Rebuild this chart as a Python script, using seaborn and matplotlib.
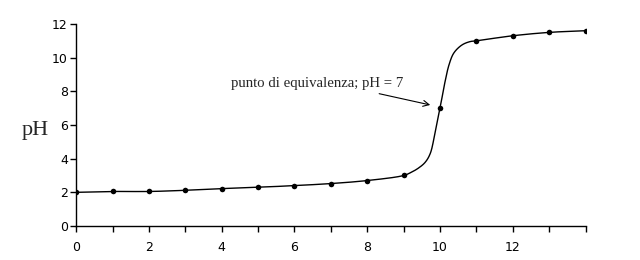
import numpy as np
import pandas as pd
import matplotlib
matplotlib.use("Agg")
import matplotlib.pyplot as plt
import seaborn as sns

# measured points (markers)
volume = [0, 1, 2, 3, 4, 5, 6, 7, 8, 9, 10, 11, 12, 13, 14]
ph = [2.0, 2.05, 2.05, 2.12, 2.22, 2.3, 2.4, 2.52, 2.7, 3.0, 7.0, 11.0, 11.3, 11.5, 11.6]

# drawn titration curve (denser near the equivalence point)
curve_x = [0, 1, 2, 3, 4, 5, 6, 7, 8, 9, 9.2, 9.4, 9.59, 9.73, 9.86, 10.0,
           10.14, 10.25, 10.38, 10.6, 10.82, 11, 12, 13, 14]
curve_y = [2.0, 2.05, 2.05, 2.12, 2.22, 2.3, 2.4, 2.52, 2.7, 3.0, 3.18, 3.43, 3.78, 4.3, 5.5,
           7.0, 8.6, 9.6, 10.28, 10.75, 10.95, 11.0, 11.3, 11.5, 11.6]

x_ticks = [0, 2, 4, 6, 8, 10, 12]
y_ticks = [0, 2, 4, 6, 8, 10, 12]
annotation = "punto di equivalenza; pH = 7"
y_label = "pH"

sns.set_theme(style="ticks")
plt.rcParams['font.family'] = ['DejaVu Sans']

# centripetal Catmull-Rom smoothing in (approximate) display units
def smooth(xs, ys, sx=36.4, sy=16.83, n=30):
    P = np.column_stack([np.asarray(xs) * sx, np.asarray(ys) * sy]).astype(float)
    P = np.vstack([2 * P[0] - P[1], P, 2 * P[-1] - P[-2]])
    out = []
    for i in range(1, len(P) - 2):
        p0, p1, p2, p3 = P[i - 1], P[i], P[i + 1], P[i + 2]
        t0 = 0.0
        t1 = t0 + np.linalg.norm(p1 - p0) ** 0.5
        t2 = t1 + np.linalg.norm(p2 - p1) ** 0.5
        t3 = t2 + np.linalg.norm(p3 - p2) ** 0.5
        t = np.linspace(t1, t2, n)[:, None]
        a1 = (t1 - t) / (t1 - t0) * p0 + (t - t0) / (t1 - t0) * p1
        a2 = (t2 - t) / (t2 - t1) * p1 + (t - t1) / (t2 - t1) * p2
        a3 = (t3 - t) / (t3 - t2) * p2 + (t - t2) / (t3 - t2) * p3
        b1 = (t2 - t) / (t2 - t0) * a1 + (t - t0) / (t2 - t0) * a2
        b2 = (t3 - t) / (t3 - t1) * a2 + (t - t1) / (t3 - t1) * a3
        c = (t2 - t) / (t2 - t1) * b1 + (t - t1) / (t2 - t1) * b2
        out.append(c)
    out = np.vstack(out)
    return out[:, 0] / sx, out[:, 1] / sy

cx, cy = smooth(curve_x, curve_y)
curve = pd.DataFrame({"x": cx, "y": cy})
pts = pd.DataFrame({"x": volume, "y": ph})

fig = plt.figure(figsize=(6.4, 2.6), dpi=100)
fig.patch.set_facecolor("white")
ax = fig.add_axes([0.119, 0.1308, 0.796, 0.777])
ax.set_facecolor("white")

sns.lineplot(data=curve, x="x", y="y", ax=ax, color="black", lw=1.0, sort=False, estimator=None)
sns.scatterplot(data=pts, x="x", y="y", ax=ax, color="black", s=16, edgecolor="black",
                linewidth=0, zorder=3)

ax.set_xlim(0, 14)
ax.set_ylim(0, 12)
ax.set_xticks(x_ticks)
ax.set_xticks(range(0, 15), minor=True)
ax.set_yticks(y_ticks)
ax.set_xlabel("")
ax.set_ylabel("")
for s in ["top", "right"]:
    ax.spines[s].set_visible(False)
for s in ["left", "bottom"]:
    ax.spines[s].set_color("black")
    ax.spines[s].set_linewidth(1.0)
ax.tick_params(axis="both", which="both", direction="out", color="black", width=1.0, length=4,
               labelsize=9, labelcolor="black", pad=2)
ax.tick_params(axis="x", which="major", pad=7)

fig.text(0.034, 0.5, y_label, fontsize=16, family="Liberation Serif", ha="left", va="center")

ax.annotate(annotation, xy=(9.73, 7.19), xytext=(4.26, 8.44), fontsize=10.6,
            family="Liberation Serif", ha="left", va="center",
            arrowprops=dict(arrowstyle="->", color="black", lw=0.8, shrinkA=0, shrinkB=0,
                            relpos=(0.79, -0.05)))

fig.savefig("out.png", dpi=100)
